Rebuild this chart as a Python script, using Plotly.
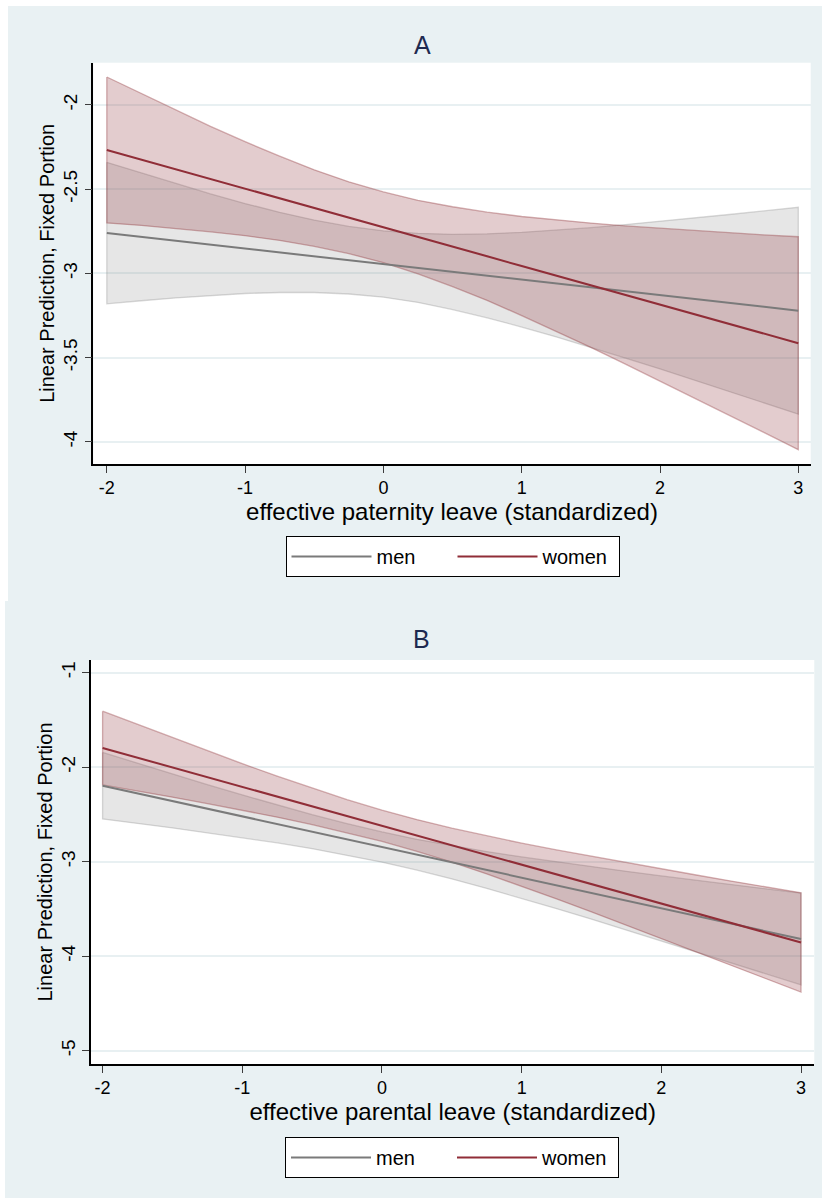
import plotly.graph_objects as go

# ---------------- data ----------------
x_pts = [-2, -1.75, -1.5, -1.25, -1, -0.75, -0.5, -0.25, 0, 0.25, 0.5,
         0.75, 1, 1.25, 1.5, 1.75, 2, 2.25, 2.5, 2.75, 3]

# Panel A: effective paternity leave
a_men_fit = [-2.760, -2.783, -2.806, -2.829, -2.852, -2.875, -2.898, -2.921, -2.944, -2.967, -2.991,
             -3.014, -3.037, -3.060, -3.083, -3.106, -3.129, -3.152, -3.175, -3.198, -3.221]
a_men_hi = [-2.340, -2.404, -2.467, -2.528, -2.585, -2.637, -2.683, -2.721, -2.747, -2.762, -2.768,
            -2.765, -2.756, -2.743, -2.728, -2.710, -2.691, -2.671, -2.650, -2.629, -2.607]
a_men_lo = [-3.180, -3.162, -3.145, -3.130, -3.119, -3.113, -3.113, -3.122, -3.141, -3.172, -3.214,
            -3.263, -3.318, -3.377, -3.438, -3.502, -3.567, -3.633, -3.700, -3.767, -3.835]
a_wom_fit = [-2.267, -2.324, -2.382, -2.440, -2.497, -2.554, -2.612, -2.669, -2.726, -2.784, -2.841,
             -2.898, -2.956, -3.013, -3.070, -3.128, -3.185, -3.242, -3.300, -3.357, -3.414]
a_wom_hi = [-1.834, -1.933, -2.031, -2.127, -2.218, -2.304, -2.385, -2.456, -2.516, -2.566, -2.604,
            -2.636, -2.662, -2.683, -2.701, -2.718, -2.732, -2.746, -2.759, -2.771, -2.782]
a_wom_lo = [-2.700, -2.715, -2.733, -2.753, -2.776, -2.804, -2.839, -2.882, -2.936, -3.002, -3.078,
            -3.160, -3.250, -3.343, -3.439, -3.538, -3.638, -3.739, -3.841, -3.943, -4.046]

# Panel B: effective parental leave
b_men_fit = [-2.196, -2.277, -2.358, -2.439, -2.520, -2.601, -2.683, -2.764, -2.845, -2.926, -3.007,
             -3.088, -3.169, -3.250, -3.331, -3.412, -3.494, -3.575, -3.656, -3.737, -3.818]
b_men_hi = [-1.844, -1.959, -2.073, -2.185, -2.294, -2.401, -2.503, -2.598, -2.685, -2.763, -2.831,
            -2.893, -2.950, -3.003, -3.054, -3.102, -3.151, -3.197, -3.243, -3.288, -3.333]
b_men_lo = [-2.548, -2.595, -2.643, -2.693, -2.746, -2.801, -2.863, -2.930, -3.005, -3.089, -3.183,
            -3.283, -3.388, -3.497, -3.608, -3.722, -3.837, -3.953, -4.069, -4.186, -4.303]
b_wom_fit = [-1.797, -1.900, -2.003, -2.106, -2.209, -2.312, -2.415, -2.518, -2.620, -2.723, -2.826,
             -2.929, -3.032, -3.135, -3.238, -3.341, -3.444, -3.547, -3.650, -3.753, -3.855]
b_wom_hi = [-1.407, -1.548, -1.688, -1.827, -1.963, -2.095, -2.223, -2.344, -2.455, -2.555, -2.646,
            -2.728, -2.804, -2.876, -2.944, -3.011, -3.077, -3.141, -3.205, -3.268, -3.330]
b_wom_lo = [-2.187, -2.252, -2.318, -2.385, -2.455, -2.529, -2.607, -2.692, -2.785, -2.891, -3.006,
            -3.130, -3.260, -3.394, -3.532, -3.671, -3.811, -3.953, -4.095, -4.238, -4.380]

x_ticks = [-2, -1, 0, 1, 2, 3]
x_ticktext = ["-2", "-1", "0", "1", "2", "3"]
a_yticks = [-4, -3.5, -3, -2.5, -2]
a_yticktext = ["-4", "-3.5", "-3", "-2.5", "-2"]
b_yticks = [-5, -4, -3, -2, -1]
b_yticktext = ["-5", "-4", "-3", "-2", "-1"]

series_names = ["men", "women"]
panel_titles = ["A", "B"]
x_titles = ["effective paternity leave (standardized)", "effective parental leave (standardized)"]
y_title = "Linear Prediction, Fixed Portion"

# ---------------- styling ----------------
W, H = 822, 1198
FONT = "Liberation Sans, Arial, sans-serif"
BG = "rgb(233,241,243)"
GRID = "rgb(232,240,242)"
MEN_LINE = "rgb(122,122,122)"
WOM_LINE = "rgb(144,45,55)"
MEN_FILL = "rgba(128,128,128,0.20)"
MEN_EDGE = "rgba(128,128,128,0.30)"
WOM_FILL = "rgba(144,53,59,0.25)"
WOM_EDGE = "rgba(144,53,59,0.38)"


def band(x, lo, hi, fill, edge, xa, ya):
    xs = list(x) + list(x[::-1]) + [x[0]]
    ys = list(hi) + list(lo[::-1]) + [hi[0]]
    return go.Scatter(x=xs, y=ys, mode="lines", fill="toself", fillcolor=fill,
                      line=dict(color=edge, width=1.3), hoverinfo="skip",
                      showlegend=False, xaxis=xa, yaxis=ya)


fig = go.Figure()
panels = [
    ("x", "y", "legend", a_men_fit, a_men_lo, a_men_hi, a_wom_fit, a_wom_lo, a_wom_hi),
    ("x2", "y2", "legend2", b_men_fit, b_men_lo, b_men_hi, b_wom_fit, b_wom_lo, b_wom_hi),
]
for xa, ya, lg, mf, ml, mh, wf, wl, wh in panels:
    fig.add_trace(band(x_pts, ml, mh, MEN_FILL, MEN_EDGE, xa, ya))
    fig.add_trace(band(x_pts, wl, wh, WOM_FILL, WOM_EDGE, xa, ya))
    fig.add_trace(go.Scatter(x=x_pts, y=mf, mode="lines", name=series_names[0],
                             line=dict(color=MEN_LINE, width=2), xaxis=xa, yaxis=ya, legend=lg))
    fig.add_trace(go.Scatter(x=x_pts, y=wf, mode="lines", name=series_names[1],
                             line=dict(color=WOM_LINE, width=2), xaxis=xa, yaxis=ya, legend=lg))


def px_x(p):
    return p / W


def px_y(p):
    return 1 - p / H


common_x = dict(tickmode="array", tickvals=x_ticks, ticktext=x_ticktext, showgrid=False,
                zeroline=False, showline=True, linecolor="black", linewidth=1.5,
                ticks="outside", ticklen=7, tickwidth=1.3, tickcolor="rgb(60,60,60)",
                tickfont=dict(family=FONT, size=18, color="black"),
                title=dict(font=dict(family=FONT, size=24, color="black"), standoff=2))
common_y = dict(tickmode="array", showgrid=True, gridcolor=GRID, gridwidth=1.5,
                zeroline=False, showline=True, linecolor="black", linewidth=1.5,
                ticks="outside", ticklen=7, tickwidth=1.3, tickcolor="rgb(60,60,60)",
                tickangle=-90, tickfont=dict(family=FONT, size=19, color="black"),
                title=dict(text=y_title, font=dict(family=FONT, size=20, color="black"), standoff=0))

legend_common = dict(orientation="h", xanchor="center", yanchor="top",
                     bgcolor="white", bordercolor="black", borderwidth=1,
                     font=dict(family=FONT, size=20, color="black"),
                     itemwidth=80, entrywidth=71, traceorder="normal")

fig.update_layout(
    width=W, height=H, margin=dict(l=0, r=0, t=0, b=0),
    paper_bgcolor=BG, plot_bgcolor="white",
    font=dict(family=FONT, color="black"),
    xaxis=dict(common_x, domain=[px_x(93.3), px_x(810.7)], range=[-2.0976, 3.0897],
               anchor="y", title_text=x_titles[0]),
    yaxis=dict(common_y, domain=[px_y(464), px_y(62.7)], range=[-4.131, -1.749],
               anchor="x", tickvals=a_yticks, ticktext=a_yticktext),
    xaxis2=dict(common_x, domain=[px_x(91), px_x(814.3)], range=[-2.083, 3.095],
                anchor="y2", title_text=x_titles[1]),
    yaxis2=dict(common_y, domain=[px_y(1064), px_y(660)], range=[-5.141, -0.866],
                anchor="x2", tickvals=b_yticks, ticktext=b_yticktext),
    legend=dict(legend_common, x=px_x(452.5), y=px_y(536)),
    legend2=dict(legend_common, x=px_x(452), y=px_y(1137)),
    shapes=[
        # white page strips around the two grey-blue panels
        dict(type="rect", xref="paper", yref="paper", x0=0, x1=1, y0=px_y(6), y1=1,
             fillcolor="white", line=dict(width=0), layer="below"),
        dict(type="rect", xref="paper", yref="paper", x0=0, x1=px_x(8), y0=px_y(601), y1=1,
             fillcolor="white", line=dict(width=0), layer="below"),
        dict(type="rect", xref="paper", yref="paper", x0=0, x1=px_x(5), y0=0, y1=px_y(601),
             fillcolor="white", line=dict(width=0), layer="below"),
    ],
    annotations=[
        dict(text=panel_titles[0], xref="paper", yref="paper", x=px_x(422), y=px_y(45),
             xanchor="center", yanchor="middle", showarrow=False,
             font=dict(family=FONT, size=25, color="rgb(30,42,80)")),
        dict(text=panel_titles[1], xref="paper", yref="paper", x=px_x(421), y=px_y(639),
             xanchor="center", yanchor="middle", showarrow=False,
             font=dict(family=FONT, size=25, color="rgb(30,42,80)")),
    ],
)

fig.write_html("out.html", config={"displayModeBar": False},
               post_script="document.body.style.margin='0px';")
